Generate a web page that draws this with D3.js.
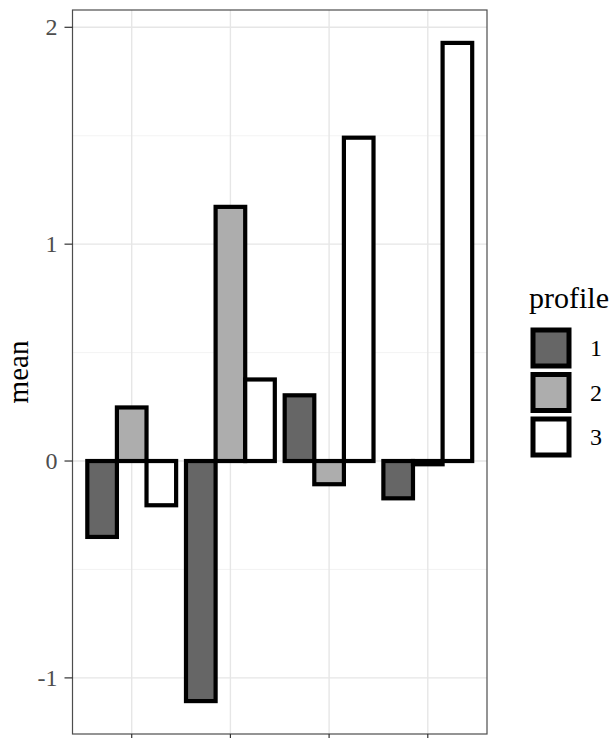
<!DOCTYPE html>
<html>
<head>
<meta charset="utf-8">
<script src="https://cdn.jsdelivr.net/npm/d3@7"></script>
<style>
  html, body { margin: 0; padding: 0; background: #fff; }
  svg { display: block; }
  text { font-family: "Liberation Serif", "Times New Roman", serif; }
</style>
</head>
<body>
<svg id="chart" width="616" height="738"></svg>
<script>
// Category groups along the x axis (no tick labels shown)
const groups = ["A", "B", "C", "D"];
// Profile levels drawn side by side within each group
const profiles = ["1", "2", "3"];
// Mean value per group, one array per profile
const profile1 = [-0.35, -1.107, 0.303, -0.172];
const profile2 = [0.247, 1.172, -0.107, -0.015];
const profile3 = [-0.204, 0.376, 1.491, 1.928];
const yTicks = [-1, 0, 1, 2];
const yMinor = [-0.5, 0.5, 1.5];
const fills = ["#666666", "#adadad", "#ffffff"];

const series = [profile1, profile2, profile3];
const rows = [];
groups.forEach((g, gi) => {
  profiles.forEach((p, pi) => rows.push({ group: g, profile: p, value: series[pi][gi] }));
});

const svg = d3.select("#chart");
const panel = { left: 72.5, right: 487, top: 10, bottom: 734 };

// Discrete x: ggplot-style 0.6 expansion on each side
const xPos = d3.scaleLinear().domain([0.4, groups.length + 0.6]).range([panel.left, panel.right]);
const xCenter = g => xPos(groups.indexOf(g) + 1);
const dodge = 0.9, barW = dodge / profiles.length;

// Continuous y with 5% expansion around the data (bars include zero)
const vals = rows.map(d => d.value).concat([0]);
const vmin = d3.min(vals), vmax = d3.max(vals), pad = (vmax - vmin) * 0.05;
const y = d3.scaleLinear().domain([vmin - pad, vmax + pad]).range([panel.bottom, panel.top]);

// Grid
const grid = svg.append("g");
grid.selectAll(".minor").data(yMinor).join("line")
  .attr("x1", panel.left).attr("x2", panel.right)
  .attr("y1", d => y(d)).attr("y2", d => y(d))
  .attr("stroke", "#f0f0f0").attr("stroke-width", 0.8);
grid.selectAll(".major").data(yTicks).join("line")
  .attr("x1", panel.left).attr("x2", panel.right)
  .attr("y1", d => y(d)).attr("y2", d => y(d))
  .attr("stroke", "#e6e6e6").attr("stroke-width", 1.4);
grid.selectAll(".vmajor").data(groups).join("line")
  .attr("x1", d => xCenter(d)).attr("x2", d => xCenter(d))
  .attr("y1", panel.top).attr("y2", panel.bottom)
  .attr("stroke", "#e6e6e6").attr("stroke-width", 1.4);

// Bars
const color = d3.scaleOrdinal().domain(profiles).range(fills);
svg.append("g").selectAll("rect").data(rows).join("rect")
  .attr("x", d => xPos(groups.indexOf(d.group) + 1 - dodge / 2 + profiles.indexOf(d.profile) * barW))
  .attr("width", xPos(barW) - xPos(0))
  .attr("y", d => y(Math.max(0, d.value)))
  .attr("height", d => Math.abs(y(d.value) - y(0)))
  .attr("fill", d => color(d.profile))
  .attr("stroke", "#000").attr("stroke-width", 4.2)
  .attr("stroke-linejoin", "miter");

// Panel border
svg.append("rect")
  .attr("x", panel.left).attr("y", panel.top)
  .attr("width", panel.right - panel.left).attr("height", panel.bottom - panel.top)
  .attr("fill", "none").attr("stroke", "#4d4d4d").attr("stroke-width", 1.2);

// Y axis
const yAxis = svg.append("g");
yAxis.selectAll("line").data(yTicks).join("line")
  .attr("x1", panel.left - 8).attr("x2", panel.left)
  .attr("y1", d => y(d)).attr("y2", d => y(d))
  .attr("stroke", "#333").attr("stroke-width", 1.2);
yAxis.selectAll("text").data(yTicks).join("text")
  .attr("x", panel.left - 15).attr("y", d => y(d))
  .attr("text-anchor", "end").attr("dominant-baseline", "central")
  .attr("fill", "#4d4d4d").attr("font-size", 24)
  .text(d => d3.format("d")(d).replace("−", "-"));

// X axis ticks
svg.append("g").selectAll("line").data(groups).join("line")
  .attr("x1", d => xCenter(d)).attr("x2", d => xCenter(d))
  .attr("y1", panel.bottom).attr("y2", panel.bottom + 8)
  .attr("stroke", "#333").attr("stroke-width", 1.2);

// Y axis title
svg.append("text")
  .attr("transform", `translate(28,${(panel.top + panel.bottom) / 2}) rotate(-90)`)
  .attr("text-anchor", "middle").attr("font-size", 29).attr("fill", "#000")
  .text("mean");

// Legend
const legend = svg.append("g");
legend.append("text").attr("x", 529).attr("y", 308)
  .attr("font-size", 30).attr("fill", "#000").text("profile");
const keyY = d3.scalePoint().domain(profiles).range([348, 437]);
legend.selectAll("rect").data(profiles).join("rect")
  .attr("x", 533).attr("y", d => keyY(d) - 18)
  .attr("width", 36).attr("height", 36)
  .attr("fill", d => color(d)).attr("stroke", "#000").attr("stroke-width", 5);
legend.selectAll(".lab").data(profiles).join("text")
  .attr("x", 590).attr("y", d => keyY(d))
  .attr("dominant-baseline", "central").attr("font-size", 24).attr("fill", "#000")
  .text(d => d);
</script>
</body>
</html>
